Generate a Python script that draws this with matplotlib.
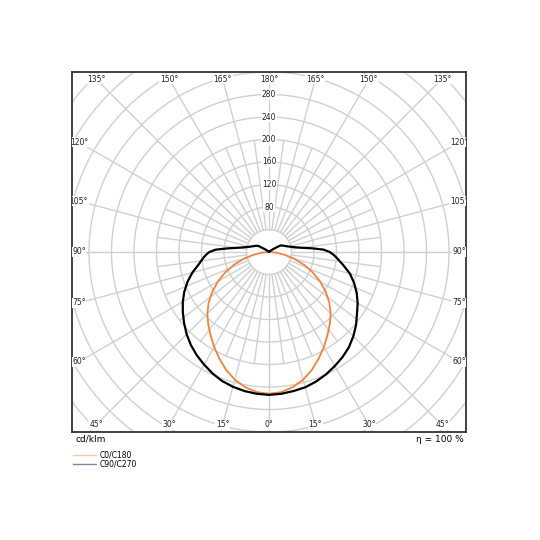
import numpy as np
import matplotlib.pyplot as plt
from matplotlib.lines import Line2D

# luminous intensity, cd/klm
gamma_c0 = list(range(0, 95, 5))
c0_c180 = [252, 250, 244, 235, 223, 209, 195, 181, 168, 155,
           140, 123, 105, 86, 66, 46, 28, 12, 2]

gamma_c90 = [0, 5, 10, 15, 20, 25, 30, 35, 40, 45, 50, 55, 60, 65, 70, 75,
             80, 85, 87.5, 90, 92.5, 95, 97.5, 100, 105, 110, 115, 120, 125,
             130, 135, 140, 150, 160, 170, 180]
c90 = [254, 253, 251, 249, 245, 240, 234, 228, 221, 212, 202, 191, 182, 172,
       161, 149, 134, 121, 115, 108, 97, 76, 58, 48, 37, 31, 27, 23, 9,
       3, 2, 1, 1, 1, 1, 1]
c270 = [254, 253, 251, 248, 244, 238, 231, 224, 216, 207, 197, 187, 177, 166,
        154, 141, 127, 117, 112, 106, 95, 74, 57, 47, 36, 30, 26, 22, 8,
        3, 2, 1, 1, 1, 1, 1]

ring_values = list(range(40, 520, 40))
ring_labels = [80, 120, 160, 200, 240, 280]
angle_labels = list(range(0, 181, 15))

XMAX, YMAX = 350, 320
grid_c = '#d0d0d0'


def to_xy(gamma, inten, side):
    g = np.radians(gamma)
    r = np.asarray(inten, dtype=float)
    return side * r * np.sin(g), -r * np.cos(g)


fig = plt.figure(figsize=(5.4, 5.4), dpi=100)
ax = fig.add_axes([72 / 540, 108 / 540, 394 / 540, 360 / 540])
ax.set_xlim(-XMAX, XMAX)
ax.set_ylim(-YMAX, YMAX)
ax.set_aspect('equal')
ax.set_xticks([])
ax.set_yticks([])
for s in ax.spines.values():
    s.set_color('#333333')
    s.set_linewidth(1.3)

# rings
t = np.linspace(0, 2 * np.pi, 400)
for r in ring_values:
    ax.plot(r * np.cos(t), r * np.sin(t), color=grid_c, lw=1.0, zorder=1)

# radial lines, every 15 deg full length, in between short
for a in np.arange(0, 360, 7.5):
    rr = np.array([40, 600]) if a % 15 == 0 else np.array([40, 200])
    ax.plot(rr * np.sin(np.radians(a)), -rr * np.cos(np.radians(a)),
            color=grid_c, lw=1.0, zorder=1)

box = dict(boxstyle='square,pad=0.1', fc='white', ec='none')
for v in ring_labels:
    ax.text(0, v, str(v), fontsize=5.5, ha='center', va='center',
            bbox=box, zorder=3, color='#222222')

ix, iy = XMAX - 12, YMAX - 12.5
for g in angle_labels:
    sides = (1,) if g in (0, 180) else (1, -1)
    for side in sides:
        dx = side * np.sin(np.radians(g))
        dy = -np.cos(np.radians(g))
        tx = ix / abs(dx) if abs(dx) > 1e-9 else np.inf
        ty = iy / abs(dy) if abs(dy) > 1e-9 else np.inf
        k = min(tx, ty)
        ax.text(k * dx, k * dy, f'{g}°', fontsize=5.5, ha='center', va='center',
                bbox=box, zorder=3, color='#222222', clip_on=True)

# curves
xl, yl = to_xy(gamma_c0, c0_c180, -1)
xr, yr = to_xy(gamma_c0, c0_c180, 1)
ax.plot(np.r_[xl[::-1], xr], np.r_[yl[::-1], yr], color='#f5823a', lw=1.3, zorder=4)

xl, yl = to_xy(gamma_c90, c270, -1)
xr, yr = to_xy(gamma_c90, c90, 1)
ax.plot(np.r_[xl[::-1], xr], np.r_[yl[::-1], yr], color='black', lw=1.6,
        zorder=5, solid_joinstyle='round')

fig.text(76 / 540, 1 - 439 / 540, 'cd/klm', fontsize=6.5, ha='left', va='center')
fig.text(464 / 540, 1 - 439 / 540, 'η = 100 %', fontsize=6.5, ha='right', va='center')

handles = [Line2D([], [], color='#f9c9a6', lw=1.0),
           Line2D([], [], color='#7d8a99', lw=1.0)]
fig.legend(handles, ['C0/C180', 'C90/C270'], loc='upper left',
           bbox_to_anchor=(68 / 540, 1 - 445 / 540), frameon=False,
           fontsize=5.5, handlelength=3.0, handletextpad=0.5,
           labelspacing=0.05, borderpad=0.2)

fig.savefig('out.png', dpi=100, facecolor='white')
